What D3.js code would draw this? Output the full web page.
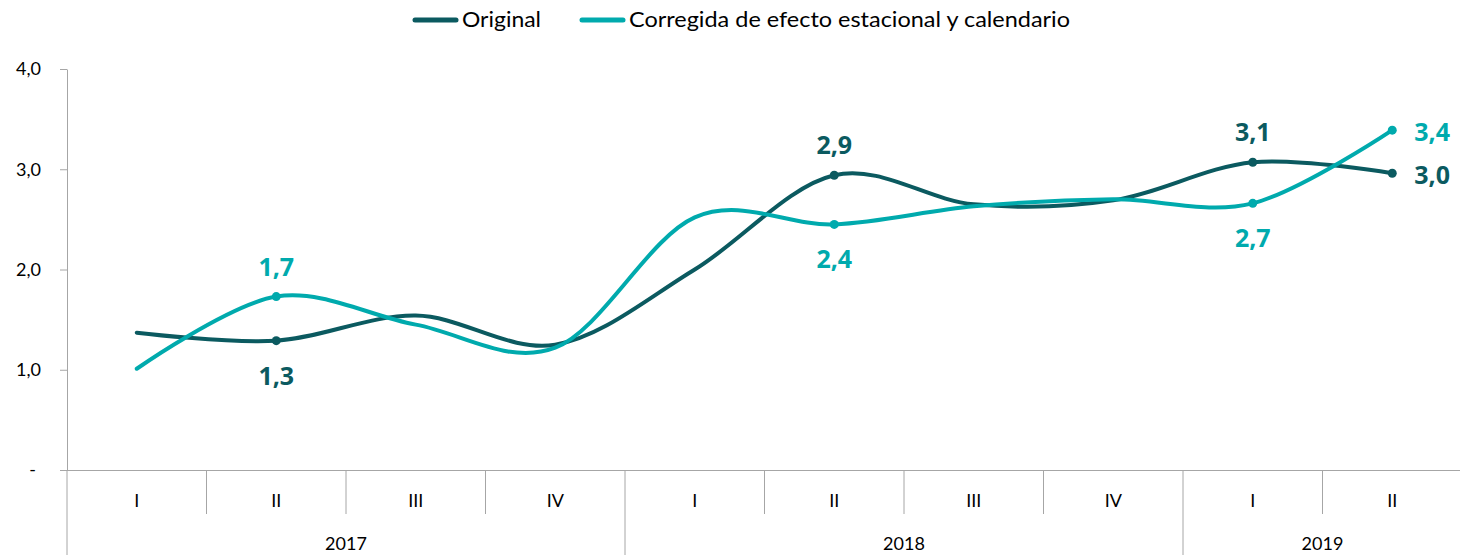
<!DOCTYPE html>
<html>
<head>
<meta charset="utf-8">
<script src="https://cdn.jsdelivr.net/npm/d3@7"></script>
<style>
  body { margin: 0; background: #fff; }
  text { font-family: Lato, "Open Sans", sans-serif; }
</style>
</head>
<body>
<div id="chart"></div>
<script>
// data
var quarters = ["I", "II", "III", "IV", "I", "II", "III", "IV", "I", "II"];
var years = ["2017", "2018", "2019"];
var yearSpan = [4, 4, 2]; // quarters per year
var original = [1.37, 1.29, 1.54, 1.25, 2.0, 2.94, 2.65, 2.69, 3.07, 2.96];
var corregida = [1.01, 1.73, 1.45, 1.22, 2.52, 2.45, 2.63, 2.70, 2.66, 3.39];
var yTicks = [0, 1, 2, 3, 4];
// labelled points: [index, text, position]
var origLabels = [[1, "1,3", "below"], [5, "2,9", "above"], [8, "3,1", "above"], [9, "3,0", "right"]];
var corrLabels = [[1, "1,7", "above"], [5, "2,4", "below"], [8, "2,7", "below"], [9, "3,4", "right"]];

var colOrig = "#0b5a60", colCorr = "#00aaad";

var outerWidth = 1460, outerHeight = 555;
var margin = {top: 69, right: -2, bottom: 85, left: 67};
var innerWidth = outerWidth - margin.left - margin.right,
    innerHeight = outerHeight - margin.top - margin.bottom;

var svg = d3.select("#chart").append("svg")
    .attr("width", outerWidth)
    .attr("height", outerHeight);

var g = svg.append("g")
    .attr("transform", "translate(" + margin.left + "," + margin.top + ")");

var x = d3.scaleBand()
    .domain(d3.range(quarters.length))
    .range([0, innerWidth])
    .padding(0);

var y = d3.scaleLinear()
    .domain([0, 4])
    .range([innerHeight, 0]);

// y axis
var yAxis = g.append("g")
    .call(d3.axisLeft(y).tickValues(yTicks).tickSize(7).tickSizeOuter(0)
      .tickFormat(function(d) { return d === 0 ? "-" : d3.format(".1f")(d).replace(".", ","); }));
yAxis.select(".domain").attr("stroke", "#a6a6a6");
yAxis.selectAll(".tick line").attr("stroke", "#a6a6a6");
yAxis.selectAll(".tick text")
    .attr("x", -26)
    .attr("fill", "#000")
    .style("font-size", "18px")
    .style("font-family", "Lato, sans-serif");
yAxis.selectAll(".tick").filter(function(d) { return d === 0; }).select("text").attr("x", -31);

// x axis baseline
g.append("line")
    .attr("x1", 0).attr("x2", innerWidth)
    .attr("y1", innerHeight + 0.5).attr("y2", innerHeight + 0.5)
    .attr("stroke", "#a6a6a6");

// quarter separators and labels
var bw = x.bandwidth();
var yearStarts = [0, 4, 8];
g.selectAll(".qsep")
    .data(d3.range(1, quarters.length))
    .enter().append("line")
    .attr("x1", function(d) { return x(d); })
    .attr("x2", function(d) { return x(d); })
    .attr("y1", innerHeight)
    .attr("y2", function(d) { return yearStarts.indexOf(d) >= 0 ? outerHeight - margin.top : innerHeight + 44; })
    .attr("stroke", "#a6a6a6");
g.append("line")
    .attr("x1", 0).attr("x2", 0)
    .attr("y1", innerHeight).attr("y2", outerHeight - margin.top)
    .attr("stroke", "#a6a6a6");

g.selectAll(".qlab")
    .data(quarters)
    .enter().append("text")
    .attr("x", function(d, i) { return x(i) + bw / 2; })
    .attr("y", innerHeight + 37)
    .attr("text-anchor", "middle")
    .style("font-size", "18px")
    .text(function(d) { return d; });

g.selectAll(".ylab")
    .data(years)
    .enter().append("text")
    .attr("x", function(d, i) { return x(yearStarts[i]) + yearSpan[i] * bw / 2; })
    .attr("y", innerHeight + 80)
    .attr("text-anchor", "middle")
    .style("font-size", "18px")
    .text(function(d) { return d; });

// lines
var line = d3.line()
    .x(function(d, i) { return x(i) + bw / 2; })
    .y(function(d) { return y(d); })
    .curve(d3.curveCardinal.tension(0));

g.append("path").datum(original)
    .attr("fill", "none").attr("stroke", colOrig).attr("stroke-width", 4)
    .attr("stroke-linecap", "round")
    .attr("d", line);
g.append("path").datum(corregida)
    .attr("fill", "none").attr("stroke", colCorr).attr("stroke-width", 4)
    .attr("stroke-linecap", "round")
    .attr("d", line);

function addLabels(series, labels, color) {
  g.selectAll(null)
    .data(labels)
    .enter().append("circle")
    .attr("cx", function(d) { return x(d[0]) + bw / 2; })
    .attr("cy", function(d) { return y(series[d[0]]); })
    .attr("r", 4.5)
    .attr("fill", color);

  g.selectAll(null)
    .data(labels)
    .enter().append("text")
    .attr("x", function(d) { return x(d[0]) + bw / 2 + (d[2] === "right" ? 22 : 0); })
    .attr("y", function(d) {
      var py = y(series[d[0]]);
      if (d[2] === "above") return py - 21;
      if (d[2] === "below") return py + 44;
      return py + 11;
    })
    .attr("text-anchor", function(d) { return d[2] === "right" ? "start" : "middle"; })
    .attr("fill", color)
    .style("font-family", "'Open Sans', sans-serif")
    .style("font-weight", "bold")
    .style("font-size", "25px")
    .text(function(d) { return d[1]; });
}
addLabels(original, origLabels, colOrig);
addLabels(corregida, corrLabels, colCorr);

// legend
var legend = svg.append("g");
var items = [
  {name: "Original", color: colOrig, x: 415, w: 79},
  {name: "Corregida de efecto estacional y calendario", color: colCorr, x: 582, w: 441}
];
items.forEach(function(it) {
  legend.append("line")
    .attr("x1", it.x).attr("x2", it.x + 41)
    .attr("y1", 20).attr("y2", 20)
    .attr("stroke", it.color).attr("stroke-width", 5).attr("stroke-linecap", "round");
  legend.append("text")
    .attr("x", it.x + 47).attr("y", 27)
    .attr("textLength", it.w)
    .attr("lengthAdjust", "spacingAndGlyphs")
    .style("font-size", "21px")
    .text(it.name);
});
</script>
</body>
</html>
